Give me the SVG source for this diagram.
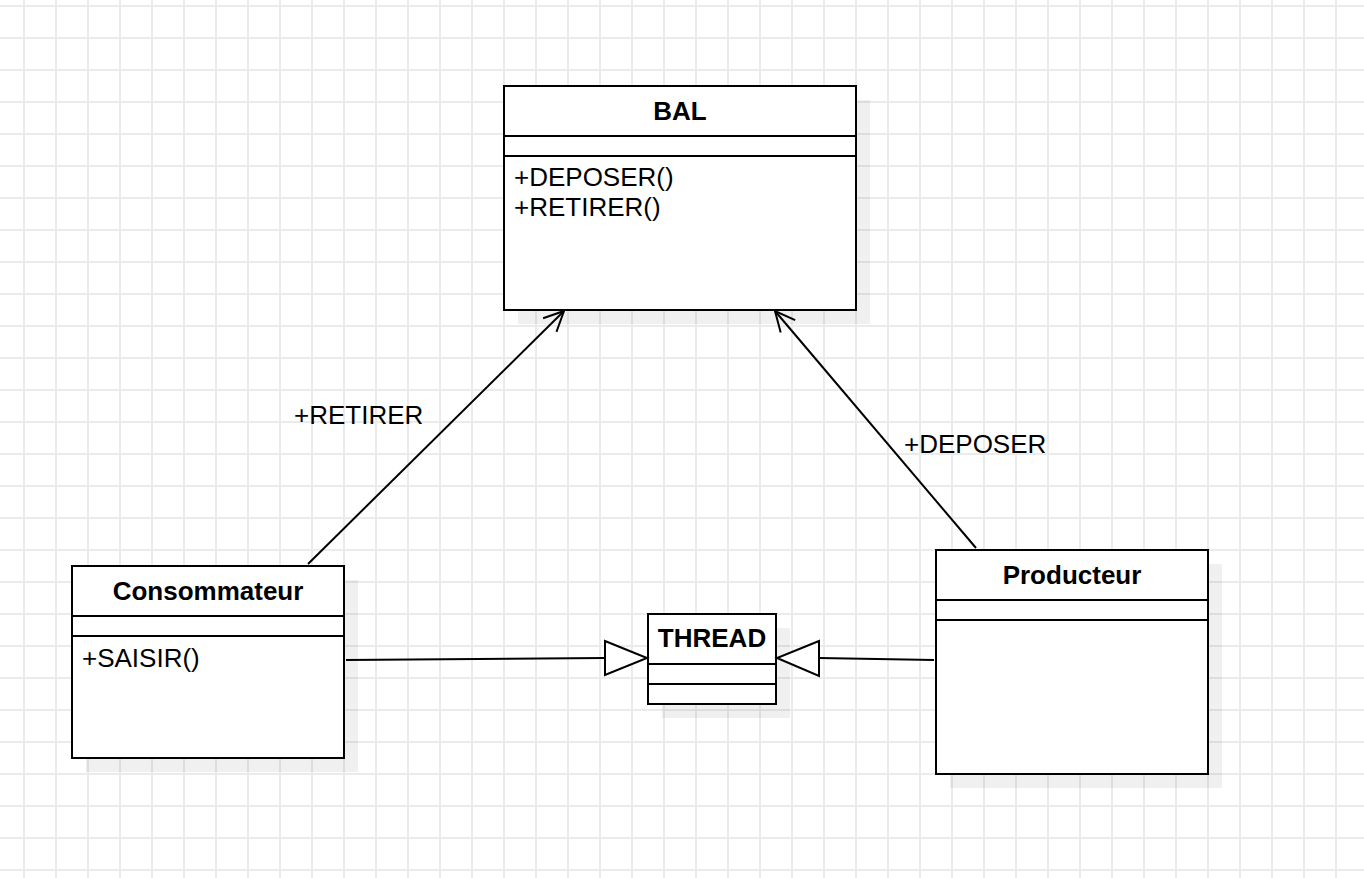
<svg xmlns="http://www.w3.org/2000/svg" width="1364" height="878" viewBox="0 0 1364 878">
<defs>
<pattern id="grid" x="23" y="5" width="32" height="32" patternUnits="userSpaceOnUse">
<path d="M0 1 H32 M1 0 V32" fill="none" stroke="#ebebeb" stroke-width="2"/>
</pattern>
<marker id="open" viewBox="-22 -11 24 22" refX="0" refY="0" markerWidth="24" markerHeight="22" markerUnits="userSpaceOnUse" orient="auto">
<path d="M-20 -9.5 L0 0 L-20 9.5" fill="none" stroke="#000" stroke-width="2"/>
</marker>
</defs>
<style>
.box{fill:#fff;stroke:#000;stroke-width:2}
.shadow{fill:#000;fill-opacity:0.06}
.div{stroke:#000;stroke-width:2}
.t{font-family:"Liberation Sans",Arial,sans-serif;font-size:26px;fill:#000}
.b{font-weight:bold;text-anchor:middle}
.c{fill:none;stroke:#000;stroke-width:2}
.tri{fill:#fff;stroke:#000;stroke-width:2}
</style>
<rect width="1364" height="878" fill="#fff"/>
<rect width="1364" height="878" fill="url(#grid)"/>

<g id="BAL">
<rect class="shadow" x="518" y="100" width="352" height="224"/>
<rect class="box" x="504" y="86" width="352" height="224"/>
<line class="div" x1="504" y1="136" x2="856" y2="136"/>
<line class="div" x1="504" y1="156" x2="856" y2="156"/>
<text class="t b" x="680" y="120">BAL</text>
<text class="t" x="514" y="186">+DEPOSER()</text>
<text class="t" x="514" y="216">+RETIRER()</text>
</g>

<g id="Consommateur">
<rect class="shadow" x="86" y="580" width="272" height="192"/>
<rect class="box" x="72" y="566" width="272" height="192"/>
<line class="div" x1="72" y1="616" x2="344" y2="616"/>
<line class="div" x1="72" y1="636" x2="344" y2="636"/>
<text class="t b" x="208" y="600">Consommateur</text>
<text class="t" x="82" y="667">+SAISIR()</text>
</g>

<g id="Producteur">
<rect class="shadow" x="950" y="564" width="272" height="224"/>
<rect class="box" x="936" y="550" width="272" height="224"/>
<line class="div" x1="936" y1="600" x2="1208" y2="600"/>
<line class="div" x1="936" y1="620" x2="1208" y2="620"/>
<text class="t b" x="1072" y="584">Producteur</text>
</g>

<g id="THREAD">
<rect class="shadow" x="662" y="628" width="128" height="90"/>
<rect class="box" x="648" y="614" width="128" height="90"/>
<line class="div" x1="648" y1="664" x2="776" y2="664"/>
<line class="div" x1="648" y1="684" x2="776" y2="684"/>
<text class="t b" x="712" y="647">THREAD</text>
</g>

<g id="connectors">
<line class="c" x1="308" y1="564" x2="564" y2="311" marker-end="url(#open)"/>
<line class="c" x1="976" y1="548" x2="775" y2="311" marker-end="url(#open)"/>
<line class="c" x1="346" y1="660" x2="605" y2="658"/>
<path class="tri" d="M605 641 L647 658 L605 675 Z"/>
<line class="c" x1="934" y1="660" x2="819" y2="658"/>
<path class="tri" d="M819 641 L777 658 L819 676 Z"/>
<text class="t" x="294" y="424">+RETIRER</text>
<text class="t" x="904" y="453">+DEPOSER</text>
</g>
</svg>
